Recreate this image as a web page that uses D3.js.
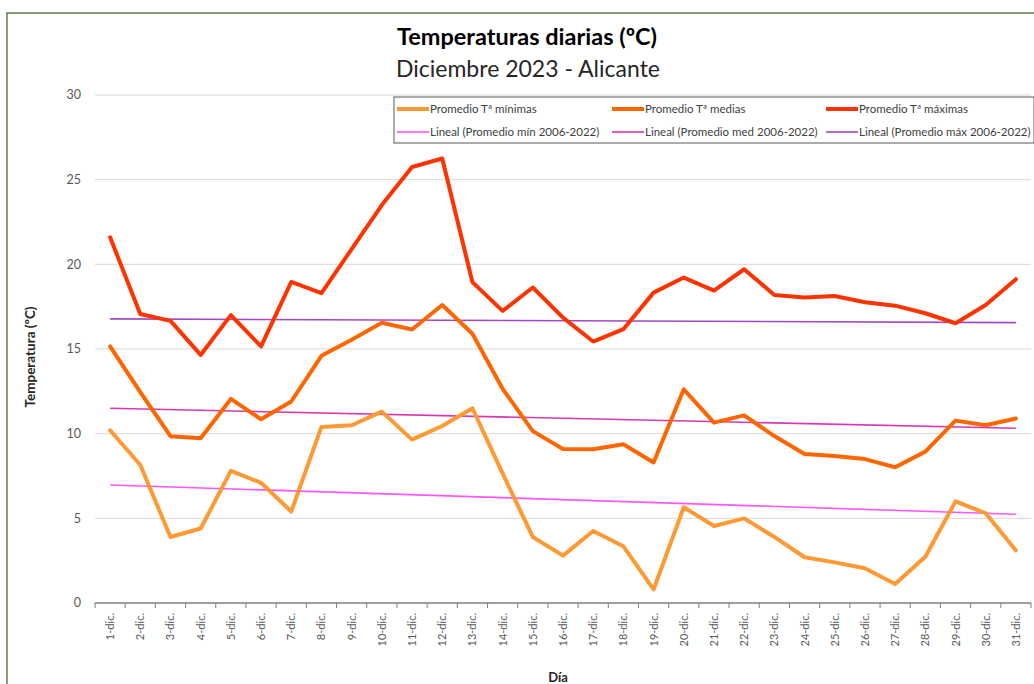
<!DOCTYPE html>
<html><head><meta charset="utf-8">
<script src="https://cdn.jsdelivr.net/npm/d3@7"></script>
<style>
html,body{margin:0;padding:0;background:#fff;}
svg{display:block;}
text{font-family:Lato,"Open Sans",sans-serif;}
</style></head>
<body>
<svg id="chart" width="1034" height="684"></svg>
<script>
const days = ["1-dic.","2-dic.","3-dic.","4-dic.","5-dic.","6-dic.","7-dic.","8-dic.","9-dic.","10-dic.","11-dic.","12-dic.","13-dic.","14-dic.","15-dic.","16-dic.","17-dic.","18-dic.","19-dic.","20-dic.","21-dic.","22-dic.","23-dic.","24-dic.","25-dic.","26-dic.","27-dic.","28-dic.","29-dic.","30-dic.","31-dic."];
const tMin = [10.2,8.15,3.9,4.4,7.8,7.1,5.4,10.4,10.5,11.3,9.65,10.45,11.5,7.65,3.9,2.8,4.25,3.35,0.8,5.65,4.55,5.0,3.9,2.7,2.4,2.05,1.12,2.73,6.0,5.3,3.1];
const tMed = [15.15,12.45,9.85,9.73,12.05,10.85,11.9,14.6,15.55,16.55,16.15,17.6,15.9,12.65,10.15,9.1,9.08,9.38,8.3,12.62,10.65,11.08,9.86,8.8,8.68,8.5,8.02,8.94,10.77,10.5,10.9];
const tMax = [21.6,17.07,16.66,14.65,17.0,15.15,18.96,18.3,20.9,23.5,25.75,26.25,18.95,17.25,18.63,16.85,15.44,16.17,18.33,19.22,18.45,19.71,18.19,18.04,18.13,17.76,17.56,17.11,16.52,17.6,19.12];
const trendMin = [6.97,5.24];
const trendMed = [11.5,10.32];
const trendMax = [16.78,16.56];
const yTicks = [0,5,10,15,20,25,30];
const titleText = "Temperaturas diarias (ºC)";
const subtitleText = "Diciembre 2023 - Alicante";
const yLabel = "Temperatura (ºC)";
const xLabel = "Día";
const legendRow1 = ["Promedio Tª mínimas","Promedio Tª medias","Promedio Tª máximas"];
const legendRow2 = ["Lineal (Promedio mín 2006-2022)","Lineal (Promedio med 2006-2022)","Lineal (Promedio máx 2006-2022)"];

const colMin="#FF9933", colMed="#FF6600", colMax="#FF3300";
const colTMin="#FF55FF", colTMed="#D936B5", colTMax="#A447C4";

const svg = d3.select("#chart");
// frame
svg.append("rect").attr("x",7).attr("y",13).attr("width",1100).attr("height",760)
  .attr("fill","#fff").attr("stroke","#4A6B2A").attr("stroke-width",1.3);

const x = d3.scaleBand().domain(days).range([95,1031]).padding(0);
const y = d3.scaleLinear().domain([0,30]).range([603,95]);

// gridlines
svg.append("g").selectAll("line").data(yTicks.filter(d=>d>0)).join("line")
  .attr("x1",95).attr("x2",1031).attr("y1",d=>y(d)).attr("y2",d=>y(d))
  .attr("stroke","#D9D9D9").attr("stroke-width",1);

// y axis labels
svg.append("g").selectAll("text").data(yTicks).join("text")
  .attr("x",81).attr("y",d=>y(d)).attr("dy","0.35em").attr("text-anchor","end")
  .attr("font-size",12.5).attr("fill","#595959").text(d=>d);

// x axis
const gx = svg.append("g").attr("transform","translate(0,603)");
gx.append("line").attr("x1",95).attr("x2",1031).attr("y1",0).attr("y2",0).attr("stroke","#7F7F7F").attr("stroke-width",1.3);
const bounds = days.map(d=>x(d)).concat([x(days[days.length-1])+x.bandwidth()]);
gx.selectAll("line.tk").data(bounds).join("line").attr("class","tk")
  .attr("x1",d=>d).attr("x2",d=>d).attr("y1",0).attr("y2",5).attr("stroke","#7F7F7F").attr("stroke-width",1);
gx.selectAll("text").data(days).join("text")
  .attr("transform",d=>`translate(${x(d)+x.bandwidth()/2+4},10) rotate(-90)`)
  .attr("text-anchor","end").attr("font-size",11).attr("fill","#595959").text(d=>d);

// axis titles
svg.append("text").attr("transform","translate(35,357) rotate(-90)").attr("text-anchor","middle")
  .attr("font-size",13.5).attr("font-weight","bold").attr("fill","#262626").text(yLabel);
svg.append("text").attr("x",558).attr("y",682).attr("text-anchor","middle")
  .attr("font-size",13).attr("font-weight","bold").attr("fill","#262626").text(xLabel);

// title
svg.append("text").attr("x",527).attr("y",45).attr("text-anchor","middle")
  .attr("font-size",23.5).attr("font-weight","bold").attr("fill","#000").text(titleText);
svg.append("text").attr("x",528).attr("y",77).attr("text-anchor","middle")
  .attr("font-size",23).attr("fill","#262626").text(subtitleText);

// trend lines
const cx = i => x(days[i]) + x.bandwidth()/2;
const trends = [[trendMin,colTMin],[trendMed,colTMed],[trendMax,colTMax]];
svg.append("g").selectAll("line").data(trends).join("line")
  .attr("x1",cx(0)).attr("x2",cx(days.length-1))
  .attr("y1",d=>y(d[0][0])).attr("y2",d=>y(d[0][1]))
  .attr("stroke",d=>d[1]).attr("stroke-width",1.6);

// data lines
const line = d3.line().x((d,i)=>cx(i)).y(d=>y(d));
[[tMin,colMin],[tMed,colMed],[tMax,colMax]].forEach(([s,c])=>{
  svg.append("path").datum(s).attr("d",line).attr("fill","none")
    .attr("stroke",c).attr("stroke-width",4).attr("stroke-linejoin","round").attr("stroke-linecap","round");
});

// legend
const lg = svg.append("g");
lg.append("rect").attr("x",394).attr("y",97).attr("width",640).attr("height",46)
  .attr("fill","#fff").attr("stroke","#595959").attr("stroke-width",1);
const lx = [397,612,826];
legendRow1.forEach((t,i)=>{
  lg.append("line").attr("x1",lx[i]).attr("x2",lx[i]+32).attr("y1",109).attr("y2",109)
    .attr("stroke",[colMin,colMed,colMax][i]).attr("stroke-width",4);
  lg.append("text").attr("x",lx[i]+33).attr("y",109).attr("dy","0.35em").attr("font-size",11.5)
    .attr("fill","#404040").text(t);
});
legendRow2.forEach((t,i)=>{
  lg.append("line").attr("x1",lx[i]).attr("x2",lx[i]+32).attr("y1",132).attr("y2",132)
    .attr("stroke",[colTMin,colTMed,colTMax][i]).attr("stroke-width",1.6);
  lg.append("text").attr("x",lx[i]+33).attr("y",132).attr("dy","0.35em").attr("font-size",11.5)
    .attr("fill","#404040").text(t);
});
</script>
</body></html>
